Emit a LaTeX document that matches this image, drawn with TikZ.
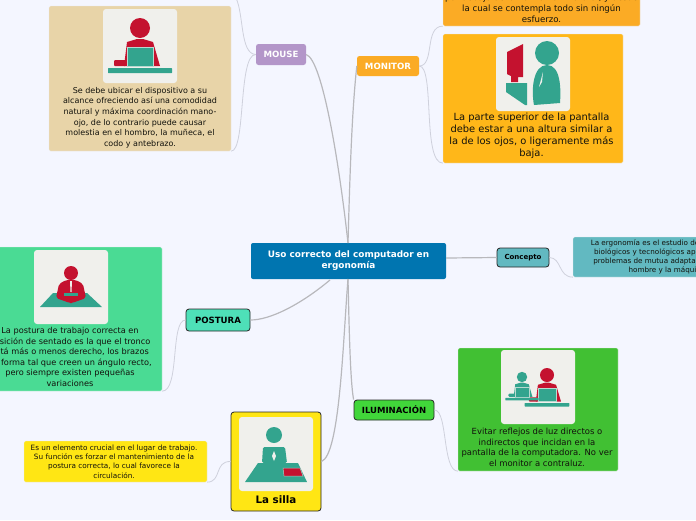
\documentclass[tikz,border=0pt]{standalone}
\usepackage{fontspec}
\setmainfont{DejaVu Sans}
\usepackage{xcolor}
\usetikzlibrary{positioning}

\definecolor{pagebg}{HTML}{F4F6FF}
\definecolor{hubblue}{HTML}{0075B0}
\definecolor{mousetop}{HTML}{B396C9}
\definecolor{mousecol}{HTML}{E8D4A8}
\definecolor{montop}{HTML}{FBAB25}
\definecolor{moncol}{HTML}{FFB719}
\definecolor{conccol}{HTML}{62B9C1}
\definecolor{postop}{HTML}{4EE0B8}
\definecolor{poscol}{HTML}{4ADB94}
\definecolor{sillacol}{HTML}{FFE614}
\definecolor{ilumtop}{HTML}{41D63A}
\definecolor{ilumcol}{HTML}{41C033}
\definecolor{tilecol}{HTML}{F0F0EC}
\definecolor{iconred}{HTML}{C4122F}
\definecolor{iconteal}{HTML}{33A48E}
\definecolor{thicklink}{HTML}{B8B8BC}
\definecolor{thinlink}{HTML}{CFD1DC}
\definecolor{inktext}{HTML}{12120C}

\newcommand{\sz}[2]{\fontsize{#1}{#2}\selectfont}

% person behind a laptop, origin at the head
\newcommand{\deskperson}[5]{%
\begin{scope}[shift={(#1,#2)},scale=#3]
\fill[#4] (0,0) circle (10);
\fill[#4] (-16,38) -- (-13,14) -- (-3,11) -- (3,11) -- (13,14) -- (20,38) -- cycle;
\fill[#4,rounded corners=1pt] (-26,38) rectangle (-14,32);
\fill[#5,draw=tilecol!70!#5,line width=.5pt] (-13,19) rectangle (13,38);
\fill[#5,rounded corners=.5pt] (-32,40) rectangle (32,45);
\end{scope}}

\begin{document}
\begin{tikzpicture}[x=1pt,y=-1pt,
  hub/.style={fill=hubblue,rounded corners=2pt,text=white,align=center,font=\bfseries\sz{8.9}{11}},
  plaintop/.style={rounded corners=2.5pt,text=white,font=\bfseries\sz{8.6}{10}},
  blacktop/.style={draw=black!85,line width=.8pt,rounded corners=3pt,text=black,font=\bfseries\sz{8.6}{10}},
  card/.style={rounded corners=1.5pt,draw=black!8,line width=.3pt},
  tile/.style={fill=tilecol,rounded corners=3pt,minimum width=74pt,minimum height=74pt,inner sep=0pt},
  cardtext/.style={text=inktext,align=center,inner sep=0pt},
  biglink/.style={draw=thicklink,line width=1.2pt},
  smalllink/.style={draw=thinlink,line width=.8pt}]
\useasboundingbox (0,0) rectangle (696,520);
\fill[pagebg] (0,0) rectangle (696,520);

\coordinate (hubtop) at (348,243);
\coordinate (hubbot) at (348,279);
\coordinate (hubleft) at (330,280);
\coordinate (hubright) at (446,258);
\coordinate (offtop) at (236,-2);

% cards
\node[card,fill=mousecol,minimum width=182pt,minimum height=145pt,inner sep=0pt] (mousecard) at (140,78.5) {};
\node[card,fill=montop,minimum width=197pt,minimum height=60pt,inner sep=0pt] (topcard) at (541.5,-4) {};
\node[card,fill=moncol,minimum width=180pt,minimum height=129pt,inner sep=0pt] (moncard) at (533,98.5) {};
\node[card,fill=conccol,minimum width=188pt,minimum height=40pt,inner sep=0pt] (conccard) at (667,257) {};
\node[card,fill=poscol,minimum width=184pt,minimum height=144pt,inner sep=0pt] (poscard) at (70,319) {};
\node[card,fill=sillacol,minimum width=183pt,minimum height=41pt,inner sep=0pt] (sillacard) at (115.5,461.5) {};
\node[card,fill=ilumcol,minimum width=160pt,minimum height=123pt,inner sep=0pt] (ilumcard) at (538,409.5) {};

% main branches
\node[hub,minimum width=195pt,minimum height=36pt,inner sep=0pt] (central) at (348.5,261) {Uso correcto del computador en\\ergonomía};
\node[plaintop,fill=mousetop,minimum width=50pt,minimum height=21pt,inner sep=0pt] (mouse) at (281,54.5) {MOUSE};
\node[plaintop,fill=montop,minimum width=62pt,minimum height=20pt,inner sep=0pt] (monitor) at (388,66) {MONITOR};
\node[blacktop,fill=conccol,minimum width=52pt,minimum height=19pt,inner sep=0pt,font=\bfseries\sz{7}{9}] (concepto) at (523,257.5) {Concepto};
\node[blacktop,fill=postop,minimum width=64pt,minimum height=22pt,inner sep=0pt] (postura) at (218,320) {POSTURA};
\node[blacktop,fill=ilumtop,minimum width=80pt,minimum height=20pt,inner sep=0pt,font=\bfseries\sz{8.5}{10}] (ilum) at (394,410) {ILUMINACIÓN};
\node[blacktop,fill=sillacol,minimum width=90pt,minimum height=99pt,inner sep=0pt] (silla) at (276,461.5) {};

% links
\draw[biglink] (hubtop) .. controls (340,170) and (323,60) .. (mouse.east);
\draw[biglink] (hubtop) .. controls (350,170) and (352,110) .. (monitor.west);
\draw[biglink] (hubright) -- (concepto.west);
\draw[biglink] (hubleft) .. controls (300,305) and (270,320) .. (postura.east);
\draw[biglink] (hubbot) .. controls (343,340) and (340,455) .. (silla.east);
\draw[biglink] (hubbot) .. controls (349,320) and (350,380) .. (ilum.north west);
\draw[smalllink] (mouse.west) .. controls (240,54) and (244,15) .. (offtop);
\draw[smalllink] (mouse.west) .. controls (238,54) and (246,151) .. (mousecard.south east);
\draw[smalllink] (monitor.east) .. controls (435,66) and (424,26) .. (topcard.south west);
\draw[smalllink] (monitor.east) .. controls (435,66) and (422,163) .. (moncard.south west);
\draw[smalllink] (concepto.east) .. controls (562,258) and (558,277) .. (conccard.south west);
\draw[smalllink] (postura.west) .. controls (170,320) and (180,391) .. (poscard.south east);
\draw[smalllink] (silla.west) .. controls (214,461) and (222,482) .. (sillacard.south east);
\draw[smalllink] (ilum.east) .. controls (448,410) and (442,471) .. (ilumcard.south west);

\foreach \n/\x/\y in {mouse/140/46,mon/533/74,pos/71/287,silla/276/454,ilum/538/387}
  {\node[tile] (\n tile) at (\x,\y) {};}

% card texts
\node[cardtext,font=\sz{8}{10.6}] (mousetext) at (140,117.5) {Se debe ubicar el dispositivo a su\\alcance ofreciendo así una comodidad\\natural y máxima coordinación mano-\\ojo, de lo contrario puede causar\\molestia en el hombro, la muñeca, el\\codo y antebrazo.};
\node[cardtext,font=\sz{8.6}{11},anchor=south] (toptext) at (541.5,22.5) {por debajo de la horizontal. Natural, y desde\\la cual se contempla todo sin ningún\\esfuerzo.};
\node[cardtext,font=\sz{9.9}{12}] (montext) at (531.5,136) {La parte superior de la pantalla\\debe estar a una altura similar a\\la de los ojos, o ligeramente más\\baja.};
\node[cardtext,font=\sz{7.2}{9.2}] (conctext) at (667,257) {La ergonomía es el estudio de los factores\hspace{-10pt}\\biológicos y tecnológicos aplicados a los\\problemas de mutua adaptación entre el\hspace{12pt}\\hombre y la máquina\hspace{10pt}};
\node[cardtext,font=\sz{8.2}{10.6}] (postext) at (70,357) {La postura de trabajo correcta en\\posición de sentado es la que el tronco\\está más o menos derecho, los brazos\\en forma tal que creen un ángulo recto,\\pero siempre existen pequeñas\\variaciones};
\node[cardtext,font=\sz{7.3}{9.3}] (sillatext) at (114,461.5) {Es un elemento crucial en el lugar de trabajo.\\Su función es forzar el mantenimiento de la\\postura correcta, lo cual favorece la\\circulación.};
\node[cardtext,font=\sz{8.45}{10.6}] (ilumtext) at (537,447.5) {Evitar reflejos de luz directos o\\indirectos que incidan en la\\pantalla de la computadora. No ver\\el monitor a contraluz.};
\node[cardtext,text=black,font=\bfseries\sz{10.3}{12}] (sillatitle) at (276,500) {La silla};

% icons
\deskperson{140}{28}{1}{iconred}{iconteal}
\deskperson{547}{375}{.7}{iconred}{iconteal}
\deskperson{522}{377}{.52}{iconteal}{iconteal}

\fill[iconred] (507,52) -- (523,44) -- (523,77) -- (518,77) -- (518,82) -- (511,82) -- (511,76) -- (507,74) -- cycle;
\fill[iconteal] (506,83) -- (527,83) -- (527,105) -- (525,105) -- (506,92) -- cycle;
\fill[iconteal] (547,53) circle (12);
\fill[iconteal] (534,105) .. controls (531,90) and (533,65) .. (547,65) .. controls (561,65) and (561,90) .. (560,103) -- cycle;
\fill[tilecol] (543,72) -- (539,87) -- (542,82) -- cycle;

\fill[iconteal] (40,307) -- (53,293) -- (87,293) -- (102,307) -- cycle;
\fill[iconred] (71,273) circle (7);
\fill[iconred,rounded corners=2pt] (56,298) -- (59,284) -- (66,280) -- (76,280) -- (83,284) -- (86,298) -- (72,303) -- (70,303) -- cycle;
\fill[iconteal] (64,293) rectangle (78,296);
\fill[tilecol] (70,281) -- (72,281) -- (71.5,292) -- (70.5,292) -- cycle;

\fill[iconteal] (274,435) circle (8);
\fill[iconteal,rounded corners=1.5pt] (262,463) -- (263,447) -- (285,447) -- (287,463) -- cycle;
\fill[tilecol] (274,451) -- (276,456) -- (274,461) -- (272,456) -- cycle;
\fill[iconteal] (245,482) -- (258,463) -- (298,463) -- (307,482) -- cycle;
\fill[iconred,draw=tilecol!60!iconteal,line width=.5pt] (283,468) -- (300,468) -- (303,476) -- (284,476) -- cycle;
\end{tikzpicture}
\end{document}
